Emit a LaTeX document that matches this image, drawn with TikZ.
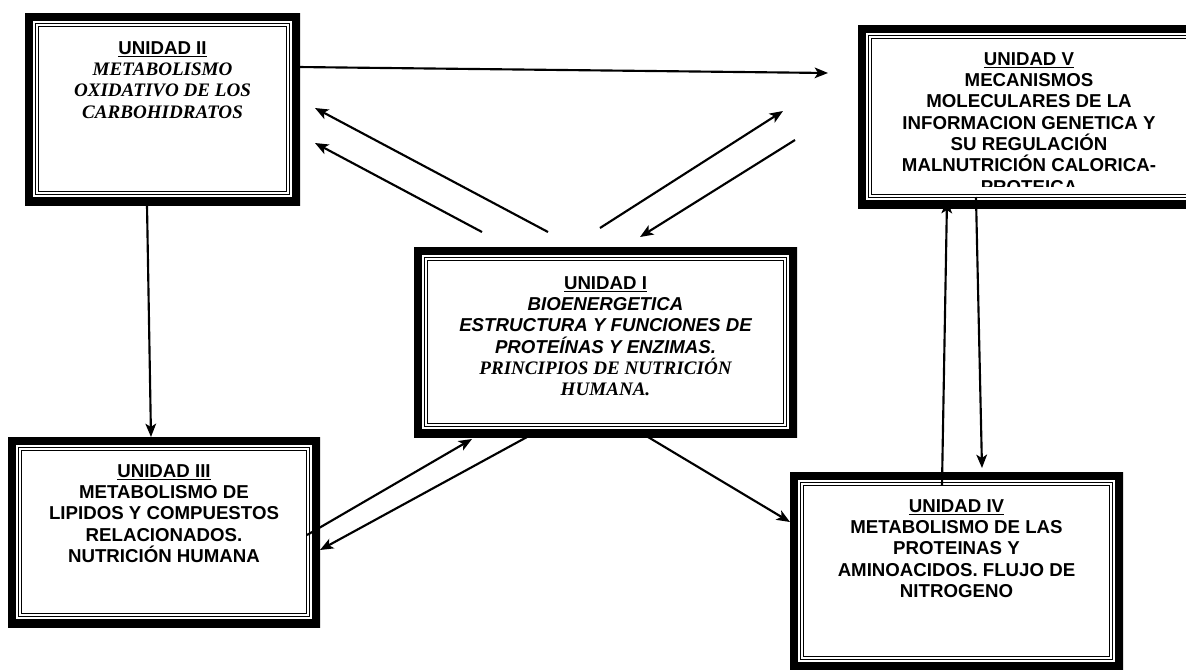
\documentclass[tikz,border=0pt]{standalone}
\usepackage{fontspec}
\setmainfont{Liberation Sans}
\newfontfamily\tmsfont{Liberation Serif}
\usetikzlibrary{calc,arrows.meta}

\newcommand{\unifont}{\fontsize{14}{16}\selectfont\bfseries}
\newcommand{\uniitfont}{\fontsize{14}{16}\selectfont\bfseries\itshape}
\newcommand{\unitmsfont}{\tmsfont\fontsize{14.3}{16}\selectfont\bfseries\itshape}

\begin{document}
\begin{tikzpicture}[x=0.75pt,y=-0.75pt,
    unidad/.style 2 args={fill=white, inner sep=0pt, outer sep=0pt,
        minimum width=#1*0.75pt, minimum height=#2*0.75pt,
        path picture={
            \draw[line width=12pt] (path picture bounding box.north west) rectangle (path picture bounding box.south east);
            \draw[line width=0.9pt, double, double distance=1.3pt] ([shift={(12,12)}]path picture bounding box.north west) rectangle ([shift={(-12,-12)}]path picture bounding box.south east);
        }},
    unitext/.style={align=center, anchor=north, inner sep=0pt, font=\unifont},
    flecha/.style={line width=1.6pt, -{Stealth[length=10pt,width=8pt,inset=2.5pt]}}]
            \useasboundingbox (0,0) rectangle (1186,669);
            \node (u2) [unidad={275}{192}] at (162.5,109) {};
            \node (u5) [unidad={342}{183}] at (1029,116.5) {};
            \node (u1) [unidad={383}{190}] at (605.5,342) {};
            \node (u3) [unidad={312}{190}] at (164,532) {};
            \node (u4) [unidad={333}{198}] at (956.5,571) {};
            \node (t2) [unitext] at (162.5,41) {\underline{UNIDAD II}\\ \unitmsfont METABOLISMO\\ \unitmsfont OXIDATIVO DE LOS\\ \unitmsfont CARBOHIDRATOS};
            \node (t1) [unitext] at (605.5,276) {\underline{UNIDAD I}\\ \uniitfont BIOENERGETICA\\ \uniitfont ESTRUCTURA Y FUNCIONES DE\\ \uniitfont PROTEÍNAS Y ENZIMAS.\\ \unitmsfont PRINCIPIOS DE NUTRICIÓN\\ \unitmsfont HUMANA.};
            \node (t3) [unitext] at (164,464) {\underline{UNIDAD III}\\ METABOLISMO DE\\ LIPIDOS Y COMPUESTOS\\ RELACIONADOS.\\ NUTRICIÓN HUMANA};
            \node (t4) [unitext] at (956.5,499) {\underline{UNIDAD IV}\\ METABOLISMO DE LAS\\ PROTEINAS Y\\ AMINOACIDOS. FLUJO DE\\ NITROGENO};
            \begin{scope}
                \clip ($(u5.north west)$) rectangle ($(u5.south east)+(0,-22)$);
                \node (t5) [unitext] at (1029,52) {\underline{UNIDAD V}\\ MECANISMOS\\ MOLECULARES DE LA\\ INFORMACION GENETICA Y\\ SU REGULACIÓN\\ MALNUTRICIÓN CALORICA-\\ PROTEICA};
            \end{scope}
            \draw[flecha] ($(u2.east)+(-2,-42)$) -- ($(u5.west)+(-30,-43.5)$);
            \draw[flecha] ($(u1.north)+(-57.5,-15)$) -- ($(u2.east)+(15,-1)$);
            \draw[flecha] ($(u1.north)+(-123.5,-15)$) -- ($(u2.east)+(15,34)$);
            \draw[flecha] ($(u1.north)+(-5.5,-19)$) -- ($(u5.west)+(-75,-5.5)$);
            \draw[flecha] ($(u5.west)+(-63,23.5)$) -- ($(u1.north)+(34.5,-10)$);
            \draw[flecha] ($(u3.east)+(-13,3)$) -- ($(u1.south)+(-133.5,2)$);
            \draw[flecha] ($(u1.south)+(-78.5,0)$) -- ($(u3.east)+(0,18)$);
            \draw[flecha] ($(u1.south)+(42.5,0)$) -- ($(u4.west)+(0,-49)$);
            \draw[flecha] ($(u4.north)+(-14.5,13)$) -- ($(u5.south)+(-82,-8)$);
            \draw[flecha] ($(u5.south)+(-53,-11)$) -- ($(u4.north)+(25.5,-4)$);
            \draw[flecha] ($(u2.south)+(-15.5,0)$) -- ($(u3.north)+(-13,0)$);
        \end{tikzpicture}
\end{document}
